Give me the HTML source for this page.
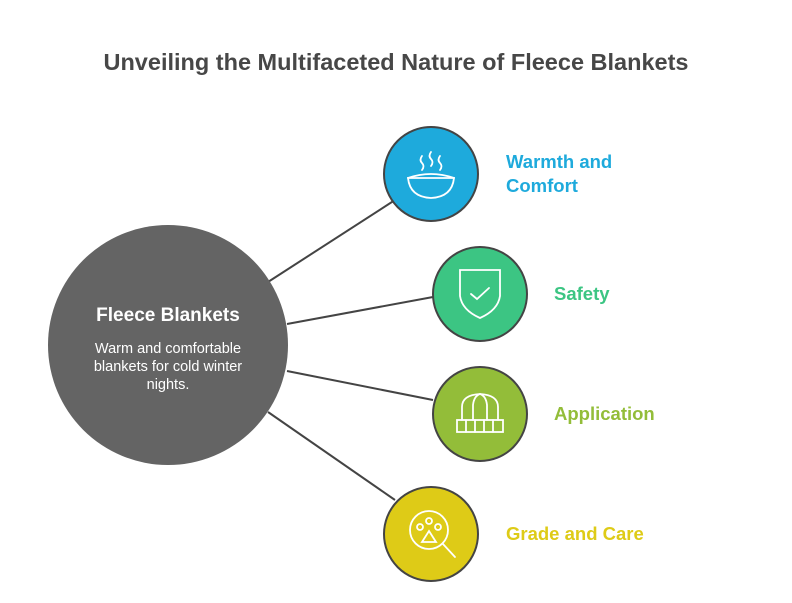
<!DOCTYPE html>
<html><head><style>
body{margin:0;background:#fff;}
svg text{font-family:"Liberation Sans",sans-serif;}
</style></head><body>
<svg width="792" height="598" viewBox="0 0 792 598" xmlns="http://www.w3.org/2000/svg">
<text x="396" y="70" text-anchor="middle" font-size="23.5" font-weight="bold" fill="#474747">Unveiling the Multifaceted Nature of Fleece Blankets</text>
<g stroke="#444" stroke-width="2">
<line x1="268" y1="282" x2="395" y2="200"/>
<line x1="287" y1="324" x2="433" y2="297"/>
<line x1="287" y1="371" x2="433" y2="400"/>
<line x1="268" y1="412" x2="395" y2="500"/>
</g>
<circle cx="168" cy="345" r="120" fill="#646464"/>
<text x="168" y="321" text-anchor="middle" font-size="19" font-weight="bold" fill="#fff">Fleece Blankets</text>
<text text-anchor="middle" font-size="14.5" fill="#fff"><tspan x="168" y="353">Warm and comfortable</tspan><tspan x="168" y="371">blankets for cold winter</tspan><tspan x="168" y="389">nights.</tspan></text>
<g stroke="#444" stroke-width="2">
<circle cx="431" cy="174" r="47" fill="#1eaadc"/>
<circle cx="480" cy="294" r="47" fill="#3cc583"/>
<circle cx="480" cy="414" r="47" fill="#93bd39"/>
<circle cx="431" cy="534" r="47" fill="#decb17"/>
</g>
<g fill="none" stroke="#fff" stroke-width="1.8" stroke-linecap="round">
<path d="M408 178 L454 178 Q452 197 431 198 Q410 197 408 178 Z"/>
<path d="M408 178 Q431 170 454 178"/>
<path d="M422 156 q-3 4 0 7 q3 3 0 7 M431 152 q-3 4 0 7 q3 3 0 7 M440 156 q-3 4 0 7 q3 3 0 7"/>
<path d="M460 270 L500 270 L500 296 Q498 310 480 318 Q462 310 460 296 Z"/>
<path d="M471 294 L477 299 L489 288"/>
<rect x="457" y="420" width="46" height="12"/>
<path d="M466 420 V432 M475 420 V432 M484 420 V432 M493 420 V432"/>
<path d="M462 420 V407 Q462 395 480 394 Q498 395 498 407 V420"/>
<path d="M473 420 V405 Q474 396 480 394 Q486 396 487 405 V420"/>
<circle cx="429" cy="530" r="19"/>
<line x1="443" y1="544" x2="455" y2="557"/>
<circle cx="429" cy="521" r="3"/><circle cx="420" cy="527" r="3"/><circle cx="438" cy="527" r="3"/>
<path d="M429 531 L436 542 L422 542 Z"/>
</g>
<g font-size="18.5" font-weight="bold">
<text x="506" y="168" fill="#1eaadc">Warmth and</text>
<text x="506" y="192" fill="#1eaadc">Comfort</text>
<text x="554" y="300" fill="#3cc583">Safety</text>
<text x="554" y="420" fill="#93bd39">Application</text>
<text x="506" y="540" fill="#decb17">Grade and Care</text>
</g>
</svg>
</body></html>
